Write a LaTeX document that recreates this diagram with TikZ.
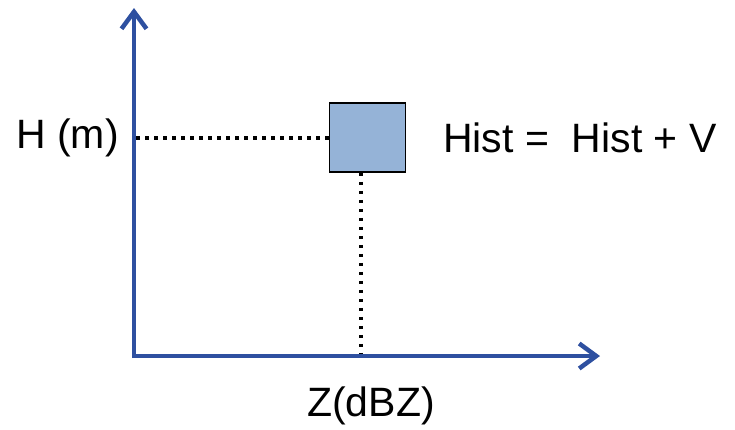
\documentclass[tikz,border=0pt]{standalone}
\usepackage{fontspec}
\setmainfont{Liberation Sans}
\usetikzlibrary{arrows.meta}
\definecolor{axisblue}{RGB}{46,80,160}
\definecolor{boxfill}{RGB}{149,179,215}
\tikzset{
  axisline/.style={draw=axisblue, line width=4.5pt, -{Straight Barb[length=17pt,width=25pt,line width=4.5pt]}},
  dotline/.style={draw=black, line width=3.5pt, dash pattern=on 3.5pt off 5.5pt},
  lbl/.style={font=\fontsize{41}{44}\selectfont, inner sep=0pt},
  histbox/.style={draw=black, line width=1.6pt, fill=boxfill, minimum width=76pt, minimum height=69pt, inner sep=0pt}
}
\begin{document}
\begin{tikzpicture}[x=1pt,y=-1pt]
\useasboundingbox (0,0) rectangle (735,429);
\coordinate (o) at (134,356);
\coordinate (ytip) at (134,8);
\coordinate (xtip) at (600,356);
\coordinate (hy) at (136,138);
\coordinate (zx) at (361,356);
\node[histbox] (box) at (367.5,137.5) {};
\draw[dotline] (hy) -- (hy -| box.west);
\draw[dotline] (box.south -| zx) -- (zx);
\draw[axisline] ([yshift=-2pt]o) -- (ytip);
\draw[axisline] (o) -- (xtip);
\node[lbl, anchor=east] (hlab) at (119,138) {H (m)};
\node[lbl, anchor=west] (hist) at (443,138) {Hist =\ \ Hist + V};
\node[lbl] (zlab) at (371,406) {Z(dBZ)};
\end{tikzpicture}
\end{document}
